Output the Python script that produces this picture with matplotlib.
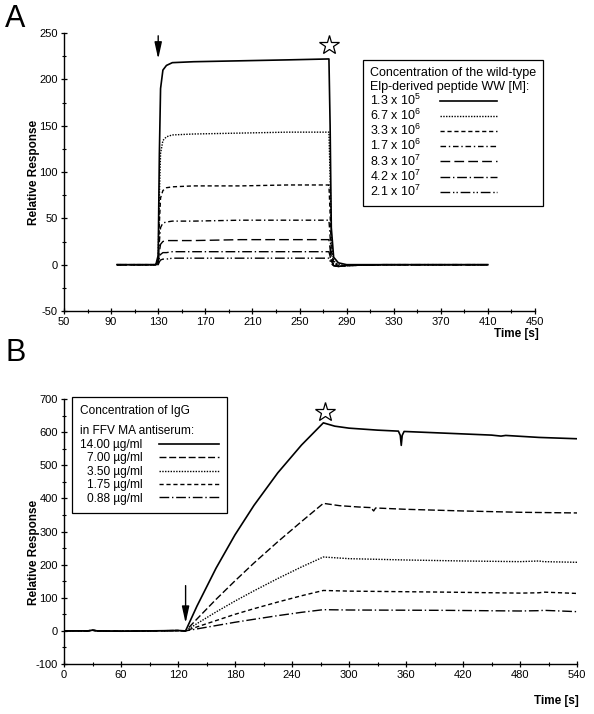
import numpy as np
import matplotlib.pyplot as plt
from matplotlib.ticker import MultipleLocator

plt.rcParams['font.family'] = ['Liberation Sans', 'DejaVu Sans']
plt.rcParams['mathtext.fontset'] = 'custom'
plt.rcParams['mathtext.rm'] = 'Liberation Sans'
plt.rcParams['axes.unicode_minus'] = False

# ---- panel A data: sensorgrams, Elp-derived peptide WW
t_a = [95, 128, 130, 131, 132, 134, 137, 142, 160, 200, 240, 275, 276, 277, 279, 283, 290, 320, 410]
a_13e5 = [0, 0, 10, 120, 190, 210, 215, 218, 219, 220, 221, 222, 150, 40, 8, 2, 0, 0, 0]
a_67e6 = [0, 0, 8, 75, 120, 134, 138, 140, 141, 142, 143, 143, 95, 25, 4, 0, -1, 0, 0]
a_33e6 = [0, 0, 5, 45, 72, 80, 83, 84, 85, 85, 86, 86, 55, 15, 2, -1, -1, 0, 0]
a_17e6 = [0, 0, 3, 25, 40, 45, 46, 47, 47, 48, 48, 48, 30, 8, 0, -2, -1, 0, 0]
a_83e7 = [0, 0, 2, 14, 22, 25, 26, 26, 26, 27, 27, 27, 17, 4, -1, -2, -1, 0, 0]
a_42e7 = [0, 0, 1, 7, 11, 13, 13, 14, 14, 14, 14, 14, 9, 2, -1, -2, -1, 0, 0]
a_21e7 = [0, 0, 0, 3, 5, 6, 6, 7, 7, 7, 7, 7, 4, 1, -1, -2, -1, 0, 0]
labels_a = ['1.3 x 10$^{5}$', '6.7 x 10$^{6}$', '3.3 x 10$^{6}$', '1.7 x 10$^{6}$',
            '8.3 x 10$^{7}$', '4.2 x 10$^{7}$', '2.1 x 10$^{7}$']
xticks_a = [50, 90, 130, 170, 210, 250, 290, 330, 370, 410, 450]

# ---- panel B data: IgG in FFV MA antiserum
t_base = [0, 25, 30, 35, 60, 90, 120, 128]
y_base = [0, 0, 2, 0, -1, 0, 1, 0]
t_assoc = [140, 160, 180, 200, 225, 250, 273]
b14_assoc = [75, 189, 290, 379, 477, 561, 628]
b7_assoc = [36, 95, 151, 205, 269, 330, 385]
b35_assoc = [22, 57, 90, 121, 158, 193, 223]
b175_assoc = [12, 31, 50, 67, 87, 106, 122]
b088_assoc = [6, 16, 26, 35, 46, 56, 64]
t14_dis = [285, 300, 330, 352, 354, 355, 356, 358, 400, 450, 460, 465, 500, 540]
b14_dis = [618, 612, 606, 603, 590, 560, 590, 602, 597, 591, 588, 590, 584, 580]
t7_dis = [290, 310, 324, 325, 326, 328, 360, 420, 480, 540]
b7_dis = [378, 374, 372, 365, 362, 371, 367, 362, 358, 356]
t35_dis = [300, 360, 420, 480, 500, 505, 540]
b35_dis = [218, 214, 211, 209, 211, 209, 207]
t175_dis = [300, 400, 480, 500, 505, 540]
b175_dis = [120, 117, 114, 115, 117, 113]
t088_dis = [300, 400, 480, 500, 505, 540]
b088_dis = [63, 62, 60, 61, 62, 58]
labels_b = ['14.00 \u00b5g/ml', '7.00 \u00b5g/ml', '3.50 \u00b5g/ml', '1.75 \u00b5g/ml', '0.88 \u00b5g/ml']

fs = 8.5
fig = plt.figure(figsize=(5.94, 7.14), dpi=100)

def style_axes(ax):
    for s in ['top', 'right']:
        ax.spines[s].set_visible(False)
    for s in ['left', 'bottom']:
        ax.spines[s].set_linewidth(1.0)
    ax.tick_params(which='major', direction='inout', length=5, width=0.9, labelsize=8, pad=2)
    ax.tick_params(which='minor', direction='inout', length=3, width=0.8)

# ================= panel A
axA = fig.add_axes([64/594, 1-311/714, 471/594, 278/714])
styles_a = ['-', (0, (1, 1)), (0, (3, 2)), (0, (4, 2, 1, 2)), (0, (7, 3)),
            (0, (7, 2, 1, 2)), (0, (7, 2, 1, 1.5, 1, 2))]
series_a = [a_13e5, a_67e6, a_33e6, a_17e6, a_83e7, a_42e7, a_21e7]
for ys, ls, lab in zip(series_a, styles_a, labels_a):
    axA.plot(t_a, ys, color='black', linestyle=ls, lw=1.2 if ls == '-' else 1.0, label=lab)
axA.set_xlim(50, 450)
axA.set_ylim(-50, 250)
axA.set_xticks(xticks_a)
axA.set_xticks([x + 20 for x in xticks_a[:-1]], minor=True)
axA.yaxis.set_major_locator(MultipleLocator(50))
axA.yaxis.set_minor_locator(MultipleLocator(25))
style_axes(axA)
axA.set_ylabel('Relative Response', fontsize=fs, fontweight='bold')
axA.yaxis.set_label_coords(-0.051, 0.5)
axA.annotate('', xy=(130, 219), xytext=(130, 250),
             arrowprops=dict(arrowstyle='-|>,head_length=1.0,head_width=0.22', color='black', lw=1.0),
             annotation_clip=False)
axA.plot([275], [237], marker='*', ms=15, mfc='white', mec='black', mew=0.9, clip_on=False)
legA = axA.legend(title='Concentration of the wild-type\nElp-derived peptide WW [M]:',
                  loc='upper right', bbox_to_anchor=(543/594, 1-60/714), bbox_transform=fig.transFigure,
                  borderaxespad=0, fontsize=9, title_fontsize=9, alignment='left',
                  markerfirst=False, handlelength=4.6, labelspacing=0.0, fancybox=False,
                  edgecolor='black', framealpha=1, borderpad=0.55, handletextpad=1.5)
legA.get_frame().set_linewidth(0.9)
fig.text(539/594, 1-334/714, 'Time [s]', fontsize=fs, fontweight='bold', ha='right', va='center')
fig.text(5/594, 1-19/714, 'A', fontsize=22, ha='left', va='center')

# ================= panel B
axB = fig.add_axes([64/594, 1-664/714, 513/594, 265/714])
series_b = [(b14_assoc, t14_dis, b14_dis), (b7_assoc, t7_dis, b7_dis), (b35_assoc, t35_dis, b35_dis),
            (b175_assoc, t175_dis, b175_dis), (b088_assoc, t088_dis, b088_dis)]
styles_b = ['-', (0, (5, 2)), (0, (1, 1)), (0, (3, 2)), (0, (7, 2, 1, 2))]
for (ya, td, yd), ls, lab in zip(series_b, styles_b, labels_b):
    tt = t_base + t_assoc + td
    yy = y_base + ya + yd
    axB.plot(tt, yy, color='black', linestyle=ls, lw=1.2 if ls == '-' else 1.0, label=lab)
axB.set_xlim(0, 540)
axB.set_ylim(-100, 700)
axB.xaxis.set_major_locator(MultipleLocator(60))
axB.xaxis.set_minor_locator(MultipleLocator(30))
axB.yaxis.set_major_locator(MultipleLocator(100))
axB.yaxis.set_minor_locator(MultipleLocator(50))
style_axes(axB)
axB.set_ylabel('Relative Response', fontsize=fs, fontweight='bold')
axB.yaxis.set_label_coords(-0.047, 0.42)
axB.annotate('', xy=(128, 15), xytext=(128, 145),
             arrowprops=dict(arrowstyle='-|>,head_length=1.0,head_width=0.22', color='black', lw=1.0))
axB.plot([275], [662], marker='*', ms=15, mfc='white', mec='black', mew=0.9, clip_on=False)
legB = axB.legend(title='Concentration of IgG\nin FFV MA antiserum:',
                  loc='upper left', bbox_to_anchor=(72/594, 1-397/714), bbox_transform=fig.transFigure,
                  borderaxespad=0, fontsize=8.6, title_fontsize=8.6, alignment='left',
                  markerfirst=False, handlelength=5.0, labelspacing=0.12, fancybox=False,
                  edgecolor='black', framealpha=1, borderpad=0.7, handletextpad=1.4)
legB.get_title().set_linespacing(1.9)
legB.get_frame().set_linewidth(0.9)
fig.text(579/594, 1-701/714, 'Time [s]', fontsize=fs, fontweight='bold', ha='right', va='center')
fig.text(5/594, 1-353/714, 'B', fontsize=22, ha='left', va='center')

fig.savefig('out.png', dpi=100)
